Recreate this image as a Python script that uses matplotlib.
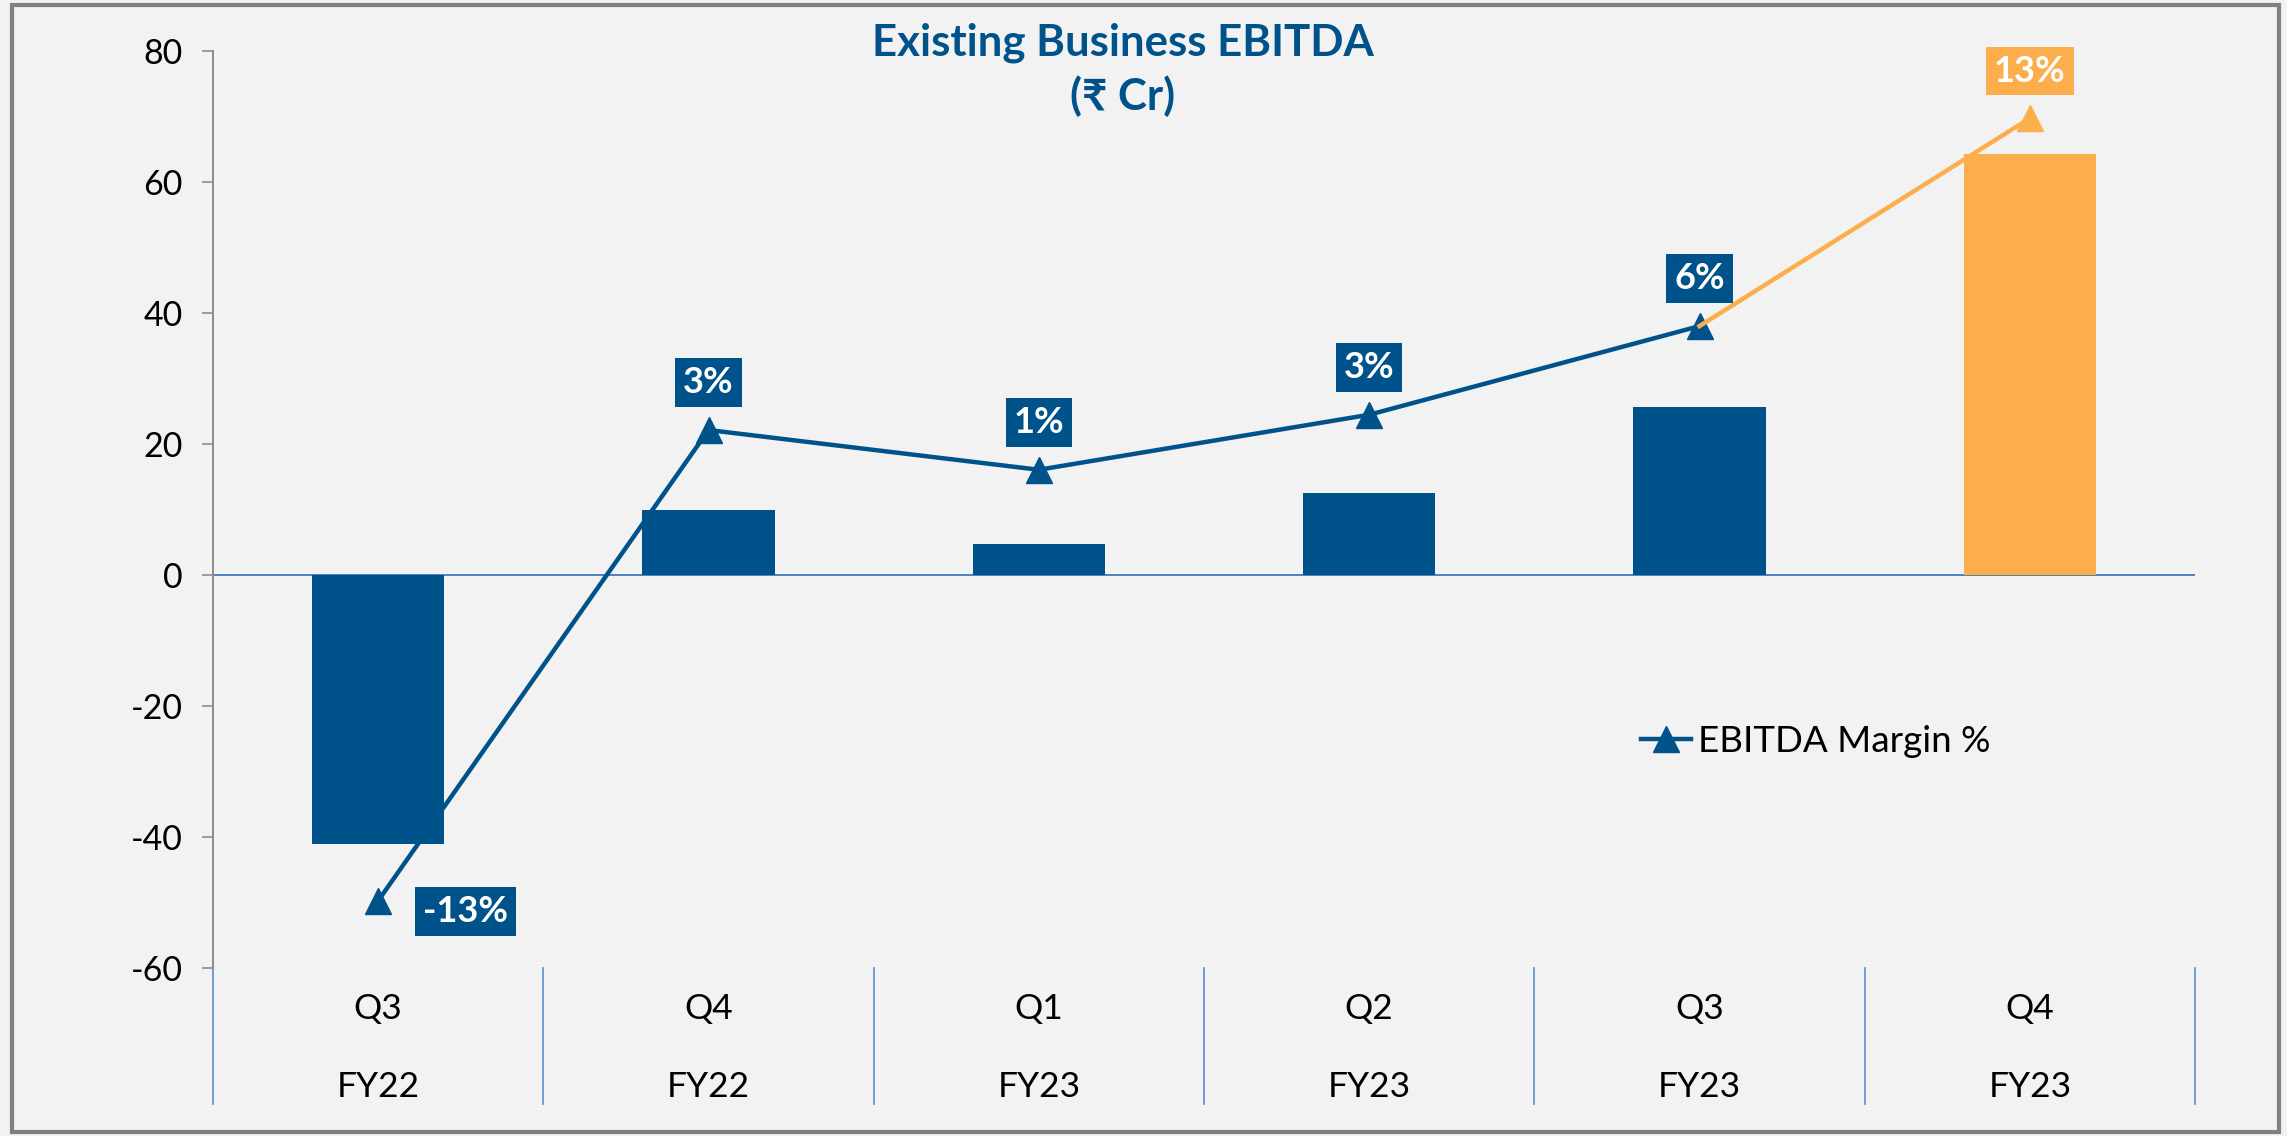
import matplotlib
matplotlib.use("Agg")
import matplotlib.pyplot as plt
import matplotlib.transforms as mtransforms
from matplotlib.lines import Line2D
from matplotlib.patches import Rectangle

quarters = ["Q3", "Q4", "Q1", "Q2", "Q3", "Q4"]
years = ["FY22", "FY22", "FY23", "FY23", "FY23", "FY23"]
ebitda = [-41.0, 10.0, 4.7, 12.5, 25.6, 64.2]
margin = [-12.8, 2.6, 1.3, 3.1, 6.0, 12.8]
margin_labels = ["-13%", "3%", "1%", "3%", "6%", "13%"]

NAVY = "#00538A"
ORANGE = "#FCAE4D"
BG = "#F2F2F2"
SEP = "#5B8BD0"
FONT = ["Lato", "DejaVu Sans"]

plt.rcParams["font.family"] = FONT
plt.rcParams["axes.unicode_minus"] = False

fig = plt.figure(figsize=(22.87, 11.36), dpi=100, facecolor=BG)
ax = fig.add_axes([213 / 2287, 1 - 968 / 1136, (2195 - 213) / 2287, (968 - 51) / 1136])
ax.set_facecolor(BG)

x = list(range(len(ebitda)))
bar_colors = [NAVY] * (len(ebitda) - 1) + [ORANGE]
ax.bar(x, ebitda, width=0.4, color=bar_colors, zorder=2)

ax.set_xlim(-0.5, len(ebitda) - 0.5)
ax.set_ylim(-60, 80)
ax.set_yticks(range(-60, 81, 20))
ax.tick_params(axis="y", direction="out", length=8, width=1.2, color="#8C8C8C",
               labelsize=24.5, pad=14, labelcolor="black")
ax.set_xticks([])
for s in ["top", "right", "bottom"]:
    ax.spines[s].set_visible(False)
ax.spines["left"].set_color("#8C8C8C")
ax.spines["left"].set_linewidth(1.4)
ax.axhline(0, color="#4F81BD", lw=1.4, zorder=1)

# category labels and separators below the plot
trans = mtransforms.blended_transform_factory(ax.transData, ax.transAxes)
for i in range(len(ebitda) + 1):
    ax.add_line(Line2D([i - 0.5, i - 0.5], [0, -0.148], transform=trans,
                       color=SEP, lw=1.2, clip_on=False))
for i, (q, y) in enumerate(zip(quarters, years)):
    ax.text(i, -0.045, q, transform=trans, ha="center", va="center", fontsize=25.5)
    ax.text(i, -0.130, y, transform=trans, ha="center", va="center", fontsize=25.5)

# margin line on hidden secondary axis
ax2 = ax.twinx()
ax2.set_ylim(-15, 15)
ax2.axis("off")
ax2.plot(x[:-1], margin[:-1], color=NAVY, lw=3.2, marker="^", ms=19, zorder=3)
ax2.plot(x[-2:], margin[-2:], color=ORANGE, lw=3.2, zorder=3)
ax2.plot(x[-1], margin[-1], color=ORANGE, marker="^", ms=19, lw=0, zorder=3)

for i, (m, lab) in enumerate(zip(margin, margin_labels)):
    c = ORANGE if i == len(margin) - 1 else NAVY
    off = (63, -8) if m < 0 else (0, 34)
    ax2.annotate(lab, (i, m), xytext=off, textcoords="offset points",
                 ha="center", va="center", fontsize=26, fontweight="bold", color="white",
                 bbox=dict(boxstyle="square,pad=0.22", fc=c, ec="none"), zorder=4)

handle = Line2D([], [], color=NAVY, lw=3.2, marker="^", ms=19)
fig.legend([handle], ["EBITDA Margin %"], loc="center left",
           bbox_to_anchor=(1608 / 2287, 1 - 741 / 1136), frameon=False,
           fontsize=26.5, handlelength=1.35, handletextpad=0.2)

fig.text(1123 / 2287, 1 - 70 / 1136, "Existing Business EBITDA\n(₹ Cr)", ha="center",
         va="center", fontsize=31.5, fontweight="bold", color=NAVY, linespacing=1.35,
         family=FONT)

fig.add_artist(Rectangle((12 / 2287, 4 / 1136), (2279 - 12) / 2287, (1131 - 4) / 1136,
                         transform=fig.transFigure, fill=False, ec="#808080", lw=3))

fig.savefig("out.png", dpi=100, facecolor=BG)
